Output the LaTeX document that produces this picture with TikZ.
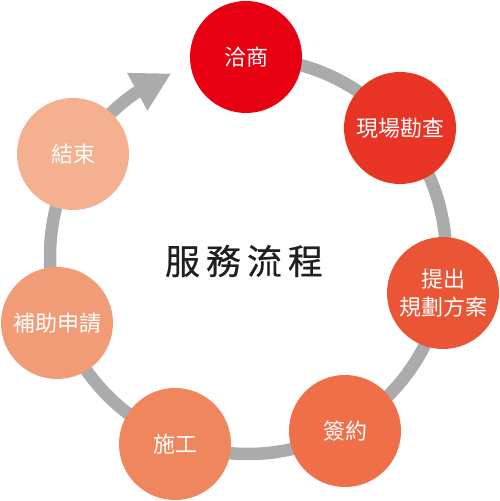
\documentclass[tikz,border=0pt]{standalone}
\usepackage{fontspec}
\setmainfont{Noto Sans CJK TC}
\newfontfamily\titlefont{Noto Sans CJK TC}[FakeBold=0.6]
\usetikzlibrary{arrows.meta, bending, calc}
\definecolor{ringgray}{RGB}{170,172,171}
\definecolor{titledark}{RGB}{35,31,32}
\definecolor{stepa}{RGB}{230,0,18}
\definecolor{stepb}{RGB}{232,52,36}
\definecolor{stepc}{RGB}{234,85,53}
\definecolor{stepd}{RGB}{238,111,72}
\definecolor{stepe}{RGB}{240,134,93}
\definecolor{stepf}{RGB}{242,156,119}
\definecolor{stepg}{RGB}{244,176,143}
\tikzset{
  stepnode/.style={circle, minimum size=112pt, inner sep=0pt,
    text=white, align=center, font=\fontsize{22}{28}\selectfont},
  ring/.style={line width=12.5pt, color=ringgray},
  heading/.style={text=titledark, font=\titlefont\fontsize{35}{40}\selectfont}
}
\begin{document}
\begin{tikzpicture}[x=1pt, y=1pt]
  \useasboundingbox (0,0) rectangle (499,501);
  \coordinate (ringc) at (248,245);

  % Grey ring with arrow head
  \draw[ring, -{Triangle[length=38pt, width=43pt, line width=0pt, flex]}]
    ($(ringc)+(90:198)$) arc[start angle=90, end angle=-247, radius=198];

  % Steps
  \node[stepnode, fill=stepa] (negotiate) at (246,444) {洽商};
  \node[stepnode, fill=stepb] (survey) at (400,373) {現場勘查};
  \node[stepnode, fill=stepc] (plan) at (443,208) {提出\\規劃方案};
  \node[stepnode, fill=stepd] (contract) at (345,70) {簽約};
  \node[stepnode, fill=stepe] (build) at (175,57) {施工};
  \node[stepnode, fill=stepf] (subsidy) at (57,178) {補助申請};
  \node[stepnode, fill=stepg] (finish) at (73,347) {結束};

  % Title
  \node[heading] (title) at (244,240) {服\hspace{6pt}務\hspace{6pt}流\hspace{6pt}程};
\end{tikzpicture}
\end{document}
